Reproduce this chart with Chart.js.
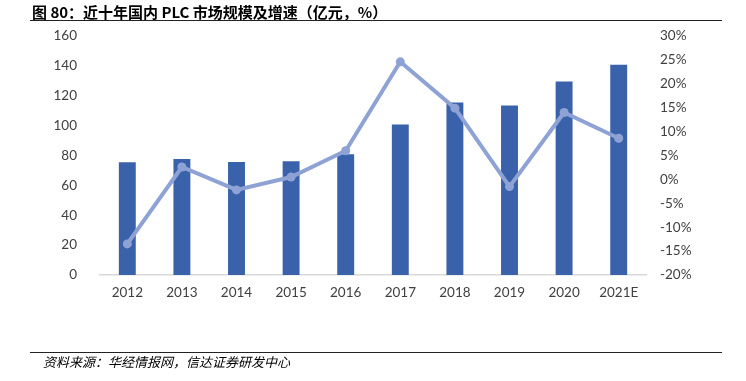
<!DOCTYPE html>
<html>
<head>
<meta charset="utf-8">
<script src="https://cdn.jsdelivr.net/npm/chart.js@4/dist/chart.umd.min.js"></script>
<style>
  html, body { margin: 0; padding: 0; background: #fff; }
  #wrap { position: relative; width: 746px; height: 381px; overflow: hidden; }
  #chart { position: absolute; left: 0; top: 0; }
  .title {
    position: absolute; left: 32px; top: 3px;
    font: bold 15px "Noto Sans CJK SC", "Noto Sans", sans-serif;
    color: #000; line-height: 18px; white-space: nowrap;
  }
  .rule { position: absolute; left: 30px; width: 692px; height: 0; border-top: 1.5px solid #222; }
  .source {
    position: absolute; left: 43px; top: 353px;
    font: italic 13px "Noto Sans CJK SC", sans-serif;
    color: #000; line-height: 18px; white-space: nowrap;
  }
</style>
</head>
<body>
<div id="wrap">
  <canvas id="chart" width="746" height="381"></canvas>
  <div class="title">图 80：近十年国内 PLC 市场规模及增速（亿元，%）</div>
  <div class="rule" style="top:20px"></div>
  <div class="rule" style="top:352px"></div>
  <div class="source">资料来源：华经情报网，信达证券研发中心</div>
</div>
<script>
// 数据
const years = ['2012', '2013', '2014', '2015', '2016', '2017', '2018', '2019', '2020', '2021E'];
const marketSize = [75.5, 77.7, 75.7, 76.2, 80.9, 100.7, 115.5, 113.5, 129.5, 140.7];   // 亿元
const growthRate = [-13.5, 2.6, -2.2, 0.5, 6.0, 24.6, 14.9, -1.5, 14.0, 8.6];          // %

const barColor = '#3A62AA';
const lineColor = '#8FA2D5';
const tickFont = { family: 'Lato, "Open Sans", sans-serif', size: 13.5 };

new Chart(document.getElementById('chart'), {
  data: {
    labels: years,
    datasets: [
      {
        type: 'line',
        label: '增速',
        data: growthRate,
        yAxisID: 'y1',
        borderColor: lineColor,
        backgroundColor: lineColor,
        borderWidth: 4,
        pointRadius: 4.5,
        pointBorderWidth: 0,
        tension: 0,
        order: 0
      },
      {
        type: 'bar',
        label: '市场规模',
        data: marketSize,
        yAxisID: 'y',
        backgroundColor: barColor,
        categoryPercentage: 1,
        barPercentage: 0.31,
        order: 1
      }
    ]
  },
  options: {
    responsive: false,
    animation: false,
    events: [],
    layout: { padding: { top: 36, left: 0, right: 0, bottom: 0 } },
    plugins: {
      legend: { display: false },
      tooltip: { enabled: false }
    },
    scales: {
      x: {
        grid: { display: false, drawTicks: false },
        border: { display: true, color: '#D9D9D9', width: 1.5 },
        ticks: { color: '#404040', font: tickFont, padding: 10, maxRotation: 0 },
        afterFit: s => { s.height = 106; }
      },
      y: {
        position: 'left',
        min: 0, max: 160,
        grid: { display: false, drawTicks: false },
        border: { display: false },
        ticks: { stepSize: 20, color: '#404040', font: tickFont, padding: 23 },
        afterFit: s => { s.width = 100; }
      },
      y1: {
        position: 'right',
        min: -20, max: 30,
        grid: { display: false, drawTicks: false },
        border: { display: false },
        ticks: {
          stepSize: 5, color: '#404040', font: tickFont, padding: 14,
          callback: v => v + '%'
        },
        afterFit: s => { s.width = 100; }
      }
    }
  }
});
</script>
</body>
</html>
